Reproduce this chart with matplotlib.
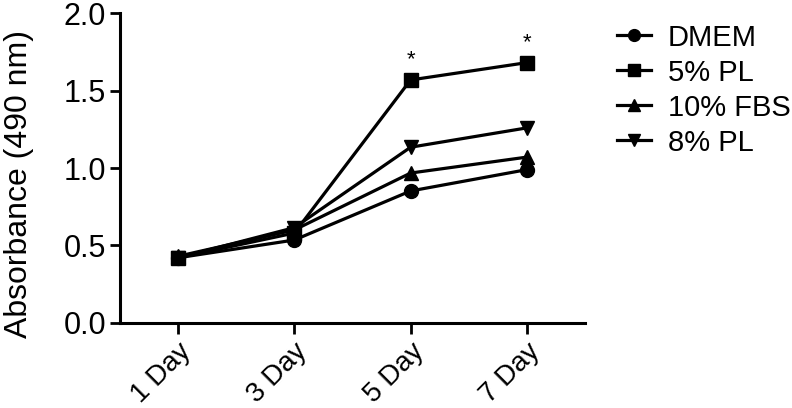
import matplotlib
matplotlib.use("Agg")
import matplotlib.pyplot as plt

days = ["1 Day", "3 Day", "5 Day", "7 Day"]
dmem = [0.42, 0.535, 0.852, 0.99]
pl5 = [0.42, 0.58, 1.570, 1.682]
fbs10 = [0.43, 0.60, 0.968, 1.071]
pl8 = [0.42, 0.615, 1.135, 1.26]
series_names = ["DMEM", "5% PL", "10% FBS", "8% PL"]
star_days = [2, 3]

plt.rcParams['font.family'] = ['Liberation Sans', 'DejaVu Sans']

fig = plt.figure(figsize=(7.92, 4.08), dpi=100)
ax = fig.add_axes([0.1515, 0.209, 0.5871, 0.758])

x = list(range(len(days)))
markers = ['o', 's', '^', 'v']
for vals, name, m in zip([dmem, pl5, fbs10, pl8], series_names, markers):
    ax.plot(x, vals, color='black', lw=2.3, marker=m, markersize=10,
            label=name, clip_on=False, zorder=3)

for d in star_days:
    ax.text(d, pl5[d] + 0.06, "*", ha='center', va='bottom', fontsize=16)

ax.set_xlim(-0.5, 3.5)
ax.set_ylim(0, 2.0)
ax.set_yticks([0, 0.5, 1.0, 1.5, 2.0])
ax.set_yticklabels(["0.0", "0.5", "1.0", "1.5", "2.0"])
ax.set_xticks(x)
ax.set_xticklabels(days, rotation=45, ha='right', rotation_mode='anchor')
ax.tick_params(axis='y', labelsize=22, width=2, length=7, color='black', pad=3)
ax.tick_params(axis='x', labelsize=20, width=2, length=8, pad=3)
ax.set_ylabel("Absorbance (490 nm)", fontsize=23)
ax.yaxis.set_label_coords(-0.185, 0.45)
for s in ['top', 'right']:
    ax.spines[s].set_visible(False)
for s in ['left', 'bottom']:
    ax.spines[s].set_linewidth(2.2)

leg = fig.legend(loc='upper left', bbox_to_anchor=(0.779, 0.942), frameon=False,
                 fontsize=21, handlelength=1.15, handletextpad=0.6, labelspacing=0.24,
                 borderpad=0, borderaxespad=0, markerscale=0.85)

fig.savefig("out.png", dpi=100)
